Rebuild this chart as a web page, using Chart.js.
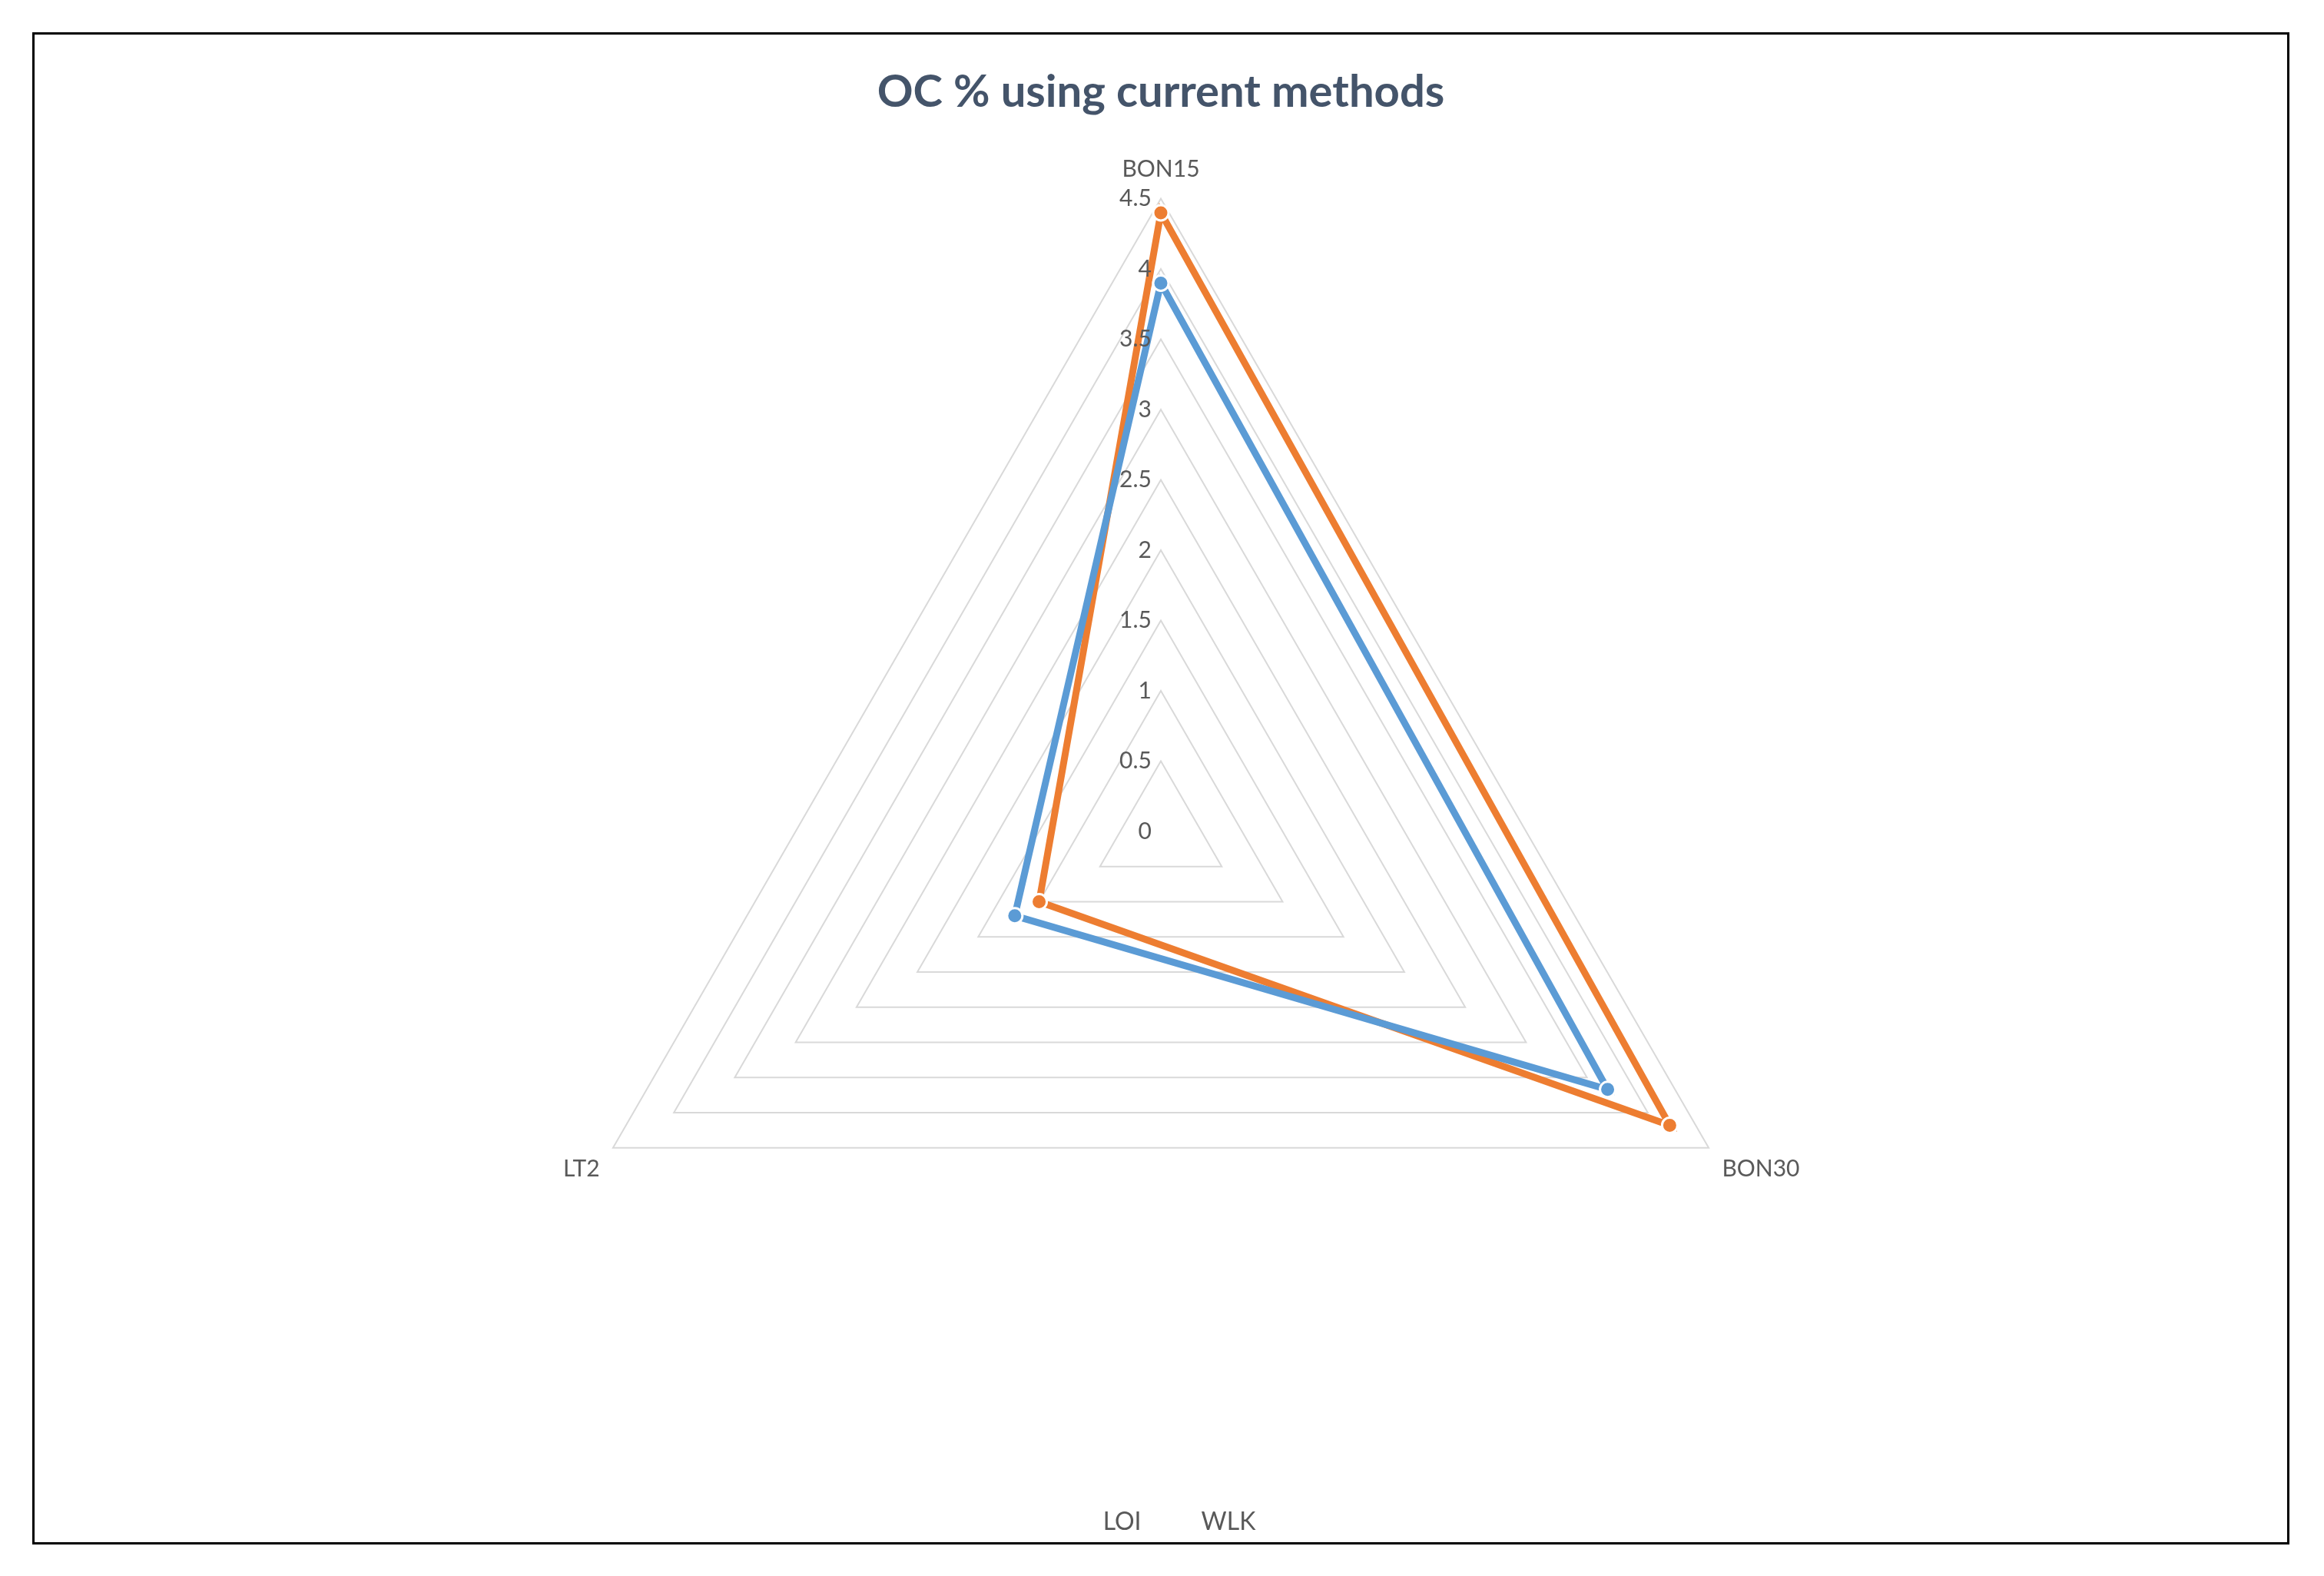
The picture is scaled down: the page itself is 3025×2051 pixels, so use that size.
<!DOCTYPE html>
<html>
<head>
<meta charset="utf-8">
<script src="https://cdn.jsdelivr.net/npm/chart.js@4"></script>
<style>
  html, body { margin: 0; background: #fff; }
  #box { position: absolute; left: 42px; top: 42px; width: 2932px; height: 1962px; border: 3px solid #000; }
  canvas { display: block; }
</style>
</head>
<body>
<div id="box"><canvas id="radar"></canvas></div>
<script>
const categories = ['BON15', 'BON30', 'LT2'];
const loiValues = [3.9, 3.67, 1.2];
const wlkValues = [4.4, 4.18, 1.0];
const tickLabels = ['0', '0.5', '1', '1.5', '2', '2.5', '3', '3.5', '4', '4.5'];

const ctx = document.getElementById('radar');

// Excel puts the axis numbers to the left of the vertical spoke
const tickPlugin = {
  id: 'leftTicks',
  afterDraw(chart) {
    const r = chart.scales.r;
    const c = chart.ctx;
    c.save();
    c.font = '30px Lato';
    c.fillStyle = '#595959';
    c.textAlign = 'right';
    c.textBaseline = 'middle';
    tickLabels.forEach(t => {
      const p = r.getPointPositionForValue(0, parseFloat(t));
      c.fillText(t, p.x - 12, p.y);
    });
    c.restore();
  }
};

new Chart(ctx, {
  type: 'radar',
  data: {
    labels: categories,
    datasets: [{
      label: 'LOI',
      data: loiValues,
      borderColor: '#5b9bd5',
      backgroundColor: '#5b9bd5',
      pointBackgroundColor: '#5b9bd5',
      pointBorderColor: '#fff',
      borderWidth: 9,
      pointRadius: 10,
      pointBorderWidth: 3,
      fill: false
    }, {
      label: 'WLK',
      data: wlkValues,
      borderColor: '#ed7d31',
      backgroundColor: '#ed7d31',
      pointBackgroundColor: '#ed7d31',
      pointBorderColor: '#fff',
      borderWidth: 9,
      pointRadius: 10,
      pointBorderWidth: 3,
      fill: false
    }]
  },
  options: {
    responsive: true,
    maintainAspectRatio: false,
    animation: false,
    layout: { padding: { top: 0, bottom: 0 } },
    plugins: {
      title: {
        display: true,
        text: 'OC % using current methods',
        color: '#44546a',
        font: { family: 'Lato', size: 58, weight: 'bold' },
        padding: { top: 40, bottom: 20 }
      },
      legend: {
        position: 'bottom',
        labels: {
          color: '#595959',
          font: { family: 'Lato', size: 32 },
          usePointStyle: true,
          pointStyle: 'line',
          boxWidth: 70,
          padding: 30
        }
      },
      tooltip: { enabled: false }
    },
    scales: {
      r: {
        min: 0,
        max: 4.5,
        ticks: { stepSize: 0.5, display: false },
        grid: { color: '#d9d9d9', lineWidth: 2 },
        angleLines: { display: false },
        pointLabels: {
          color: '#595959',
          font: { family: 'Lato', size: 30 },
          padding: 20
        }
      }
    }
  },
  plugins: [tickPlugin]
});
</script>
</body>
</html>
